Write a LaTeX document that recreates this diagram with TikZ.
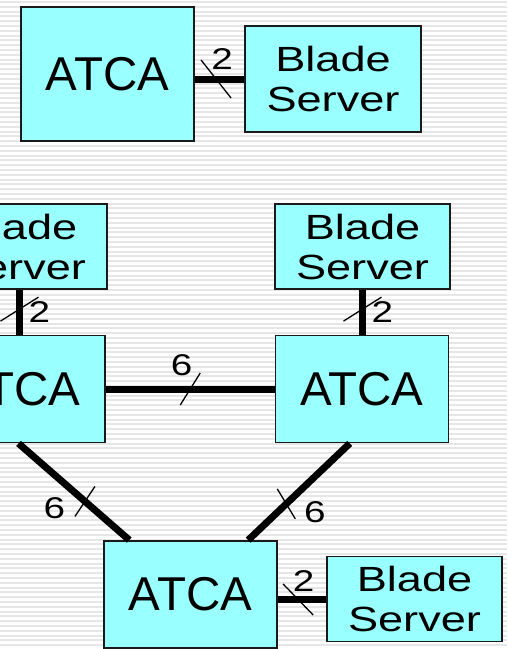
\documentclass[tikz,border=0pt]{standalone}
\usepackage{fontspec}
\setmainfont{Liberation Sans}
\newfontfamily\widefont[FakeStretch=1.29]{Liberation Sans}
\usetikzlibrary{calc}
\definecolor{NetCanvas}{HTML}{FFFFFF}
\definecolor{NetStripe}{HTML}{E6E6E6}
\definecolor{NetCyan}{HTML}{99FFFF}
\definecolor{NetInk}{HTML}{000000}
\definecolor{NetEdge}{HTML}{1A1A1A}
\tikzset{
  atcabox/.style={draw=NetEdge,line width=1.8pt,fill=NetCyan,text=NetInk,inner sep=0pt,
                  minimum width=173pt,minimum height=107pt,font=\fontsize{47.5}{50}\selectfont},
  bladebox/.style={atcabox,minimum width=175pt,minimum height=85pt,align=center,
                   font=\widefont\fontsize{35}{40}\selectfont},
  bus/.style={NetInk,line width=7pt},
  tick/.style={NetInk,line width=1.3pt},
  count/.style={text=NetInk,inner sep=0pt,font=\widefont\fontsize{30}{32}\selectfont},
  stripe/.style={fill=NetStripe},
}
\begin{document}
\begin{tikzpicture}[x=1pt,y=-1pt]
  \useasboundingbox (0,0) rectangle (507,649);
  \clip (0,0) rectangle (507,649);
  \fill[NetCanvas] (0,0) rectangle (507,649);
  \foreach \i in {0,...,135}
    \fill[stripe] (0,\i*4.8+1) rectangle (507,\i*4.8+3);

  % single chassis with one blade
  \node[atcabox,minimum height=134pt] (atcaA) at (107.5,74) {ATCA};
  \node[bladebox,minimum width=176pt,minimum height=106pt] (bladeA) at (333,79) {Blade\\Server};

  % three chassis mesh
  \node[bladebox] (bladeL) at (19.5,246.5) {Blade\\Server};
  \node[bladebox] (bladeR) at (362.5,246.5) {Blade\\Server};
  \node[atcabox] (atcaL) at (18.5,389) {ATCA};
  \node[atcabox] (atcaR) at (362,389) {ATCA};
  \node[atcabox] (atcaB) at (190.5,594.5) {ATCA};
  \node[bladebox] (bladeB) at (414.5,599) {Blade\\Server};

  \draw[bus] (atcaA.east |- bladeA.west) -- coordinate[pos=.43] (tickA) (bladeA.west);
  \draw[tick] ($(tickA)+(-15,-19)$) -- ($(tickA)+(15,19)$);
  \node[count] (numA) at ($(tickA)+(6,-20)$) {2};

  \draw[bus] (bladeL.south) -- coordinate[pos=.43] (tickL) (bladeL.south |- atcaL.north);
  \draw[tick] ($(tickL)+(-19,12)$) -- ($(tickL)+(19,-12)$);
  \node[count] (numL) at ($(tickL)+(20,3)$) {2};

  \draw[bus] (bladeR.south) -- coordinate[pos=.43] (tickR) (bladeR.south |- atcaR.north);
  \draw[tick] ($(tickR)+(-19,12)$) -- ($(tickR)+(19,-12)$);
  \node[count] (numR) at ($(tickR)+(20,3)$) {2};

  \draw[bus] (atcaL.east) -- coordinate[pos=.5] (tickM) (atcaR.west);
  \draw[tick] ($(tickM)+(-10,16)$) -- ($(tickM)+(10,-16)$);
  \node[count] (numM) at ($(tickM)+(-8.5,-24)$) {6};

  \draw[bus] (atcaL.south) -- coordinate[pos=.6] (tickD)
    ($(atcaB.north west)!.15!(atcaB.north east)$);
  \draw[tick] ($(tickD)+(-10,15)$) -- ($(tickD)+(10,-15)$);
  \node[count] (numD) at ($(tickD)+(-30.5,7)$) {6};

  \draw[bus] ($(atcaR.south west)!.43!(atcaR.south east)$) -- coordinate[pos=.625] (tickE)
    ($(atcaB.north west)!.83!(atcaB.north east)$);
  \draw[tick] ($(tickE)+(-9,-15)$) -- ($(tickE)+(9,15)$);
  \node[count] (numE) at ($(tickE)+(28.5,8)$) {6};

  \draw[bus] (atcaB.east |- bladeB.west) -- coordinate[pos=.42] (tickB) (bladeB.west);
  \draw[tick] ($(tickB)+(-15,-15)$) -- ($(tickB)+(15,16)$);
  \node[count] (numB) at ($(tickB)+(5.5,-18)$) {2};
\end{tikzpicture}
\end{document}
